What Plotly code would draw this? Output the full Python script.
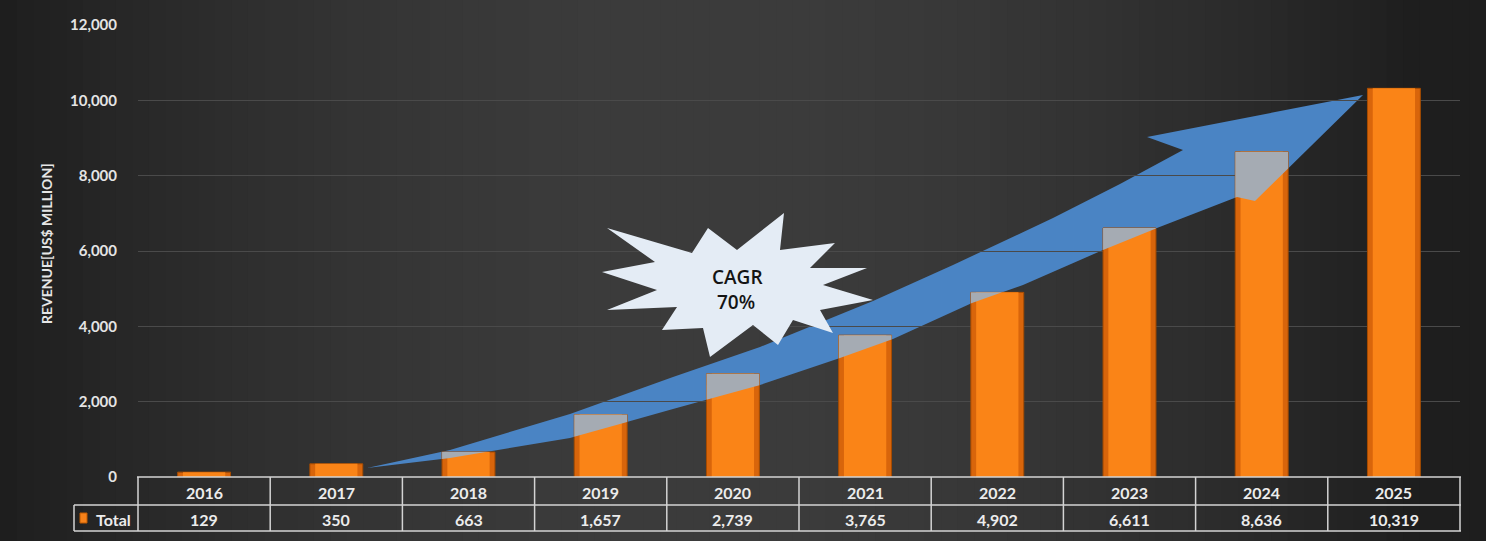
import math
import plotly.graph_objects as go

# ---------------- data ----------------
years = ["2016", "2017", "2018", "2019", "2020", "2021", "2022", "2023", "2024", "2025"]
revenue = [129, 350, 663, 1657, 2739, 3765, 4902, 6611, 8636, 10319]
series_name = "Total"
y_ticks = [0, 2000, 4000, 6000, 8000, 10000, 12000]
cagr_line1 = "CAGR"
cagr_line2 = "70%"
y_title = "REVENUE[US$ MILLION]"

# ---------------- layout geometry ----------------
W, H = 1486, 541
ML, MR, MT, MB = 138, 26, 25, 64
PW, PH = W - ML - MR, H - MT - MB
Y_MAX = 12000
BAR_W = 0.40


def px(x):
    return (x - ML) / PW


def py(y):
    return (H - MB - y) / PH


def path_from(points):
    return "M " + " L ".join(f"{px(a):.5f},{py(b):.5f}" for a, b in points) + " Z"


def clip_rect(poly, x0, x1, y0, y1):
    """Sutherland-Hodgman clip of a polygon to an axis-aligned rectangle."""
    def clip(pts, inside, inter):
        out = []
        n = len(pts)
        for k in range(n):
            cur, prev = pts[k], pts[k - 1]
            ci, pi_ = inside(cur), inside(prev)
            if ci:
                if not pi_:
                    out.append(inter(prev, cur))
                out.append(cur)
            elif pi_:
                out.append(inter(prev, cur))
        return out

    def ix(xc):
        return lambda p, q: (xc, p[1] + (q[1] - p[1]) * (xc - p[0]) / (q[0] - p[0]))

    def iy(yc):
        return lambda p, q: (p[0] + (q[0] - p[0]) * (yc - p[1]) / (q[1] - p[1]), yc)

    pts = poly
    for ins, it in [(lambda p: p[0] >= x0, ix(x0)), (lambda p: p[0] <= x1, ix(x1)),
                    (lambda p: p[1] >= y0, iy(y0)), (lambda p: p[1] <= y1, iy(y1))]:
        if not pts:
            break
        pts = clip(pts, ins, it)
    return pts


shapes = []

# background gradient (vertical strips)
N = 90
for i in range(N):
    x0 = i * W / N
    x1 = (i + 1) * W / N + 0.6
    t = (i + 0.5) / N
    L = 30 + 30 * (math.sin(math.pi * min(1, t * 1.05)) ** 0.9)
    c = int(L)
    shapes.append(dict(type="rect", xref="paper", yref="paper",
                       x0=px(x0), x1=px(x1), y0=py(H), y1=py(0),
                       fillcolor=f"rgb({c},{c},{c})", line=dict(width=0), layer="below"))

# arrow (decoration)
arrow_pts = [
    (367, 468), (450, 458), (570, 438), (673, 409), (760, 385), (840, 358),
    (893, 339), (972, 303), (1023, 285), (1103, 250), (1157, 228), (1237, 197),
    (1255, 201), (1363, 95), (1147, 137), (1183, 150), (1120, 184), (1053, 218),
    (953, 265), (873, 301), (760, 347), (673, 377), (570, 414), (450, 450),
]
shapes.append(dict(type="path", xref="paper", yref="paper", path=path_from(arrow_pts),
                   fillcolor="#4a84c4", line=dict(width=0), layer="between"))

# grey tint where the arrow passes behind the bars
ncat = len(years)
cw = PW / ncat
for i, v in enumerate(revenue):
    cx = ML + (i + 0.5) * cw
    bx0, bx1 = cx - BAR_W / 2 * cw, cx + BAR_W / 2 * cw
    btop = MT + PH * (1 - v / Y_MAX)
    poly = clip_rect(arrow_pts, bx0, bx1, btop, H - MB)
    if len(poly) >= 3:
        shapes.append(dict(type="path", xref="paper", yref="paper", path=path_from(poly),
                           fillcolor="#a5abb3", line=dict(width=0), layer="above"))

# starburst
star_pts = [
    (607, 228), (692, 253), (708, 228), (737, 250), (784, 213), (780, 250),
    (835, 243), (810, 268), (867, 268), (823, 285), (873, 300), (820, 310),
    (833, 333), (793, 320), (778, 345), (753, 325), (710, 357), (703, 328),
    (662, 330), (677, 307), (607, 310), (657, 290), (602, 272), (655, 262),
]
shapes.append(dict(type="path", xref="paper", yref="paper", path=path_from(star_pts),
                   fillcolor="#e4ecf5", line=dict(width=0), layer="above"))

# data table lines
lc = "#d4d4d4"
lw = 1.5
x_right = ML + PW + 1
for yy, xl in [(477, ML - 1), (505, 74), (531, 74)]:
    shapes.append(dict(type="line", xref="paper", yref="paper", x0=px(xl), x1=px(x_right),
                       y0=py(yy), y1=py(yy), line=dict(color=lc, width=lw), layer="above"))
shapes.append(dict(type="line", xref="paper", yref="paper", x0=px(74), x1=px(74),
                   y0=py(505), y1=py(531), line=dict(color=lc, width=lw), layer="above"))
for i in range(ncat + 1):
    xx = i / ncat
    shapes.append(dict(type="line", xref="paper", yref="paper", x0=xx, x1=xx,
                       y0=py(477), y1=py(531), line=dict(color=lc, width=lw), layer="above"))
# legend key in table
shapes.append(dict(type="rect", xref="paper", yref="paper", x0=px(80), x1=px(87),
                   y0=py(523), y1=py(513), fillcolor="#f7821a", line=dict(color="#c05a00", width=1),
                   layer="above"))

FAM = "Lato, 'Open Sans', sans-serif"
annotations = []
tfont = dict(family=FAM, size=16, color="#ececec", weight="bold")
for i, (yr, v) in enumerate(zip(years, revenue)):
    annotations.append(dict(x=i, xref="x", y=py(492), yref="paper", text=yr,
                            showarrow=False, font=tfont, xanchor="center", yanchor="middle"))
    annotations.append(dict(x=i, xref="x", y=py(519), yref="paper", text=f"{v:,}",
                            showarrow=False, font=tfont, xanchor="center", yanchor="middle"))
annotations.append(dict(x=px(113), xref="paper", y=py(519), yref="paper", text=series_name,
                        showarrow=False, font=tfont, xanchor="center", yanchor="middle"))
annotations.append(dict(x=px(46), xref="paper", y=py(244), yref="paper", text=y_title,
                        textangle=-90, showarrow=False,
                        font=dict(family=FAM, size=14, color="#e6e6e6", weight="bold"),
                        xanchor="center", yanchor="middle"))
sfont = dict(family="'Open Sans', sans-serif", size=19, color="#141414", weight=600)
annotations.append(dict(x=px(737), xref="paper", y=py(277), yref="paper", text=cagr_line1,
                        showarrow=False, font=sfont, xanchor="center", yanchor="middle"))
annotations.append(dict(x=px(736), xref="paper", y=py(302), yref="paper", text=cagr_line2,
                        showarrow=False, font=sfont, xanchor="center", yanchor="middle"))

fig = go.Figure()
fig.add_trace(go.Bar(x=years, y=revenue, name=series_name, width=BAR_W,
                     marker=dict(color="#d8650b", line=dict(color="#a84c00", width=1))))
fig.add_trace(go.Bar(x=years, y=revenue, name=series_name, width=0.32, showlegend=False,
                     marker=dict(color="#fa8417", line=dict(width=0))))

fig.update_layout(
    width=W, height=H,
    margin=dict(l=ML, r=MR, t=MT, b=MB, autoexpand=False),
    paper_bgcolor="#2e2e2e", plot_bgcolor="rgba(0,0,0,0)",
    barmode="overlay", showlegend=False,
    shapes=shapes, annotations=annotations,
    xaxis=dict(type="category", categoryorder="array", categoryarray=years,
               range=[-0.5, len(years) - 0.5], showticklabels=False, showgrid=False,
               zeroline=False, showline=False, ticks=""),
    yaxis=dict(range=[0, Y_MAX], tickvals=y_ticks, tickformat=",", showgrid=True,
               gridcolor="#4a4a4a", gridwidth=1, zeroline=False, showline=False,
               ticks="", ticklabelstandoff=20,
               tickfont=dict(family=FAM, size=15, color="#e4e4e4", weight="bold")),
    font=dict(family=FAM),
    hovermode=False,
)

fig.write_html("out.html")
